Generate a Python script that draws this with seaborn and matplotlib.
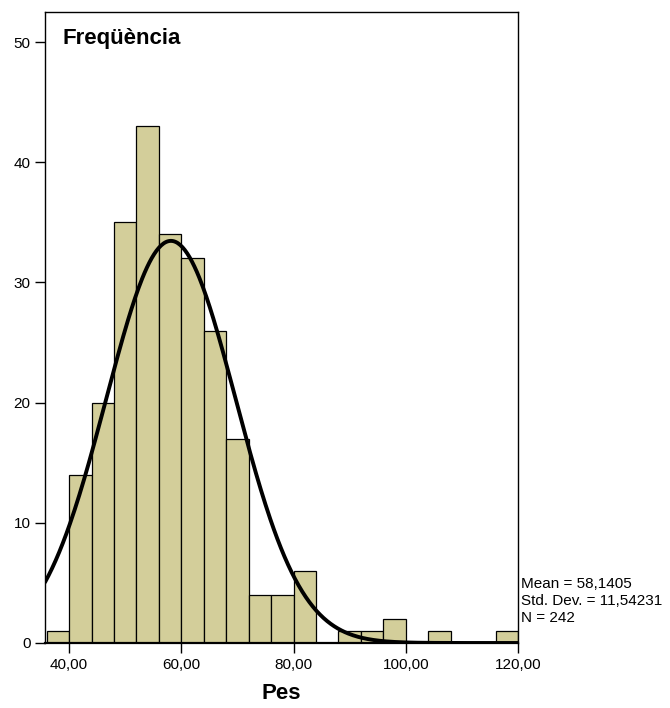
import numpy as np
import pandas as pd
import seaborn as sns
import matplotlib.pyplot as plt

# bin edges (width 4) and frequencies
bin_edges = [36, 40, 44, 48, 52, 56, 60, 64, 68, 72, 76, 80, 84, 88, 92, 96, 100, 104, 108, 112, 116, 120]
counts = [1, 14, 20, 35, 43, 34, 32, 26, 17, 4, 4, 6, 0, 1, 1, 2, 0, 1, 0, 0, 1]

# stats printed on the chart
mean_val = 58.1405
std_val = 11.54231
n_val = 242

x_ticks = [40, 60, 80, 100, 120]
x_tick_labels = ["40,00", "60,00", "80,00", "100,00", "120,00"]
y_ticks = [0, 10, 20, 30, 40, 50]

sns.set_style("ticks", {"text.color": "black", "axes.labelcolor": "black",
                        "xtick.color": "black", "ytick.color": "black",
                        "axes.edgecolor": "black"})
plt.rcParams['font.family'] = ['Liberation Sans', 'DejaVu Sans']

fig = plt.figure(figsize=(6.7, 7.08), dpi=100)
ax = fig.add_axes([45 / 670, 65 / 708, 473 / 670, 631 / 708])

mids = [(a + b) / 2 for a, b in zip(bin_edges[:-1], bin_edges[1:])]
df = pd.DataFrame({"Pes": mids, "n": counts})
sns.histplot(data=df, x="Pes", weights="n", bins=bin_edges, color="#D3CE9A",
             edgecolor="black", linewidth=0.9, alpha=1, ax=ax)

# fitted normal curve (scaled to counts)
bw = bin_edges[1] - bin_edges[0]
xs = np.linspace(35.7, 120, 400)
ys = n_val * bw / (std_val * np.sqrt(2 * np.pi)) * np.exp(-0.5 * ((xs - mean_val) / std_val) ** 2)
sns.lineplot(x=xs, y=ys, color="black", linewidth=2.8, ax=ax)

ax.set_xlim(35.7, 120)
ax.set_ylim(0, 52.5)
ax.set_xticks(x_ticks)
ax.set_xticklabels(x_tick_labels)
ax.set_yticks(y_ticks)
ax.tick_params(axis="both", labelsize=11, length=7, width=1, direction="out", color="black")
for s in ax.spines.values():
    s.set_visible(True)
    s.set_color("black")
    s.set_linewidth(1.0)
ax.spines["bottom"].set_linewidth(1.6)

ax.set_xlabel("Pes", fontsize=16, fontweight="bold", labelpad=8)
ax.set_ylabel("")
ax.text(0.038, 0.974, "Freqüència", transform=ax.transAxes, fontsize=16,
        fontweight="bold", va="top", ha="left")

fig.text(521 / 670, 1 - 601 / 708,
         "Mean = 58,1405\nStd. Dev. = 11,54231\nN = 242",
         fontsize=11, va="center", ha="left", linespacing=1.25)

plt.savefig("out.png", dpi=100)
